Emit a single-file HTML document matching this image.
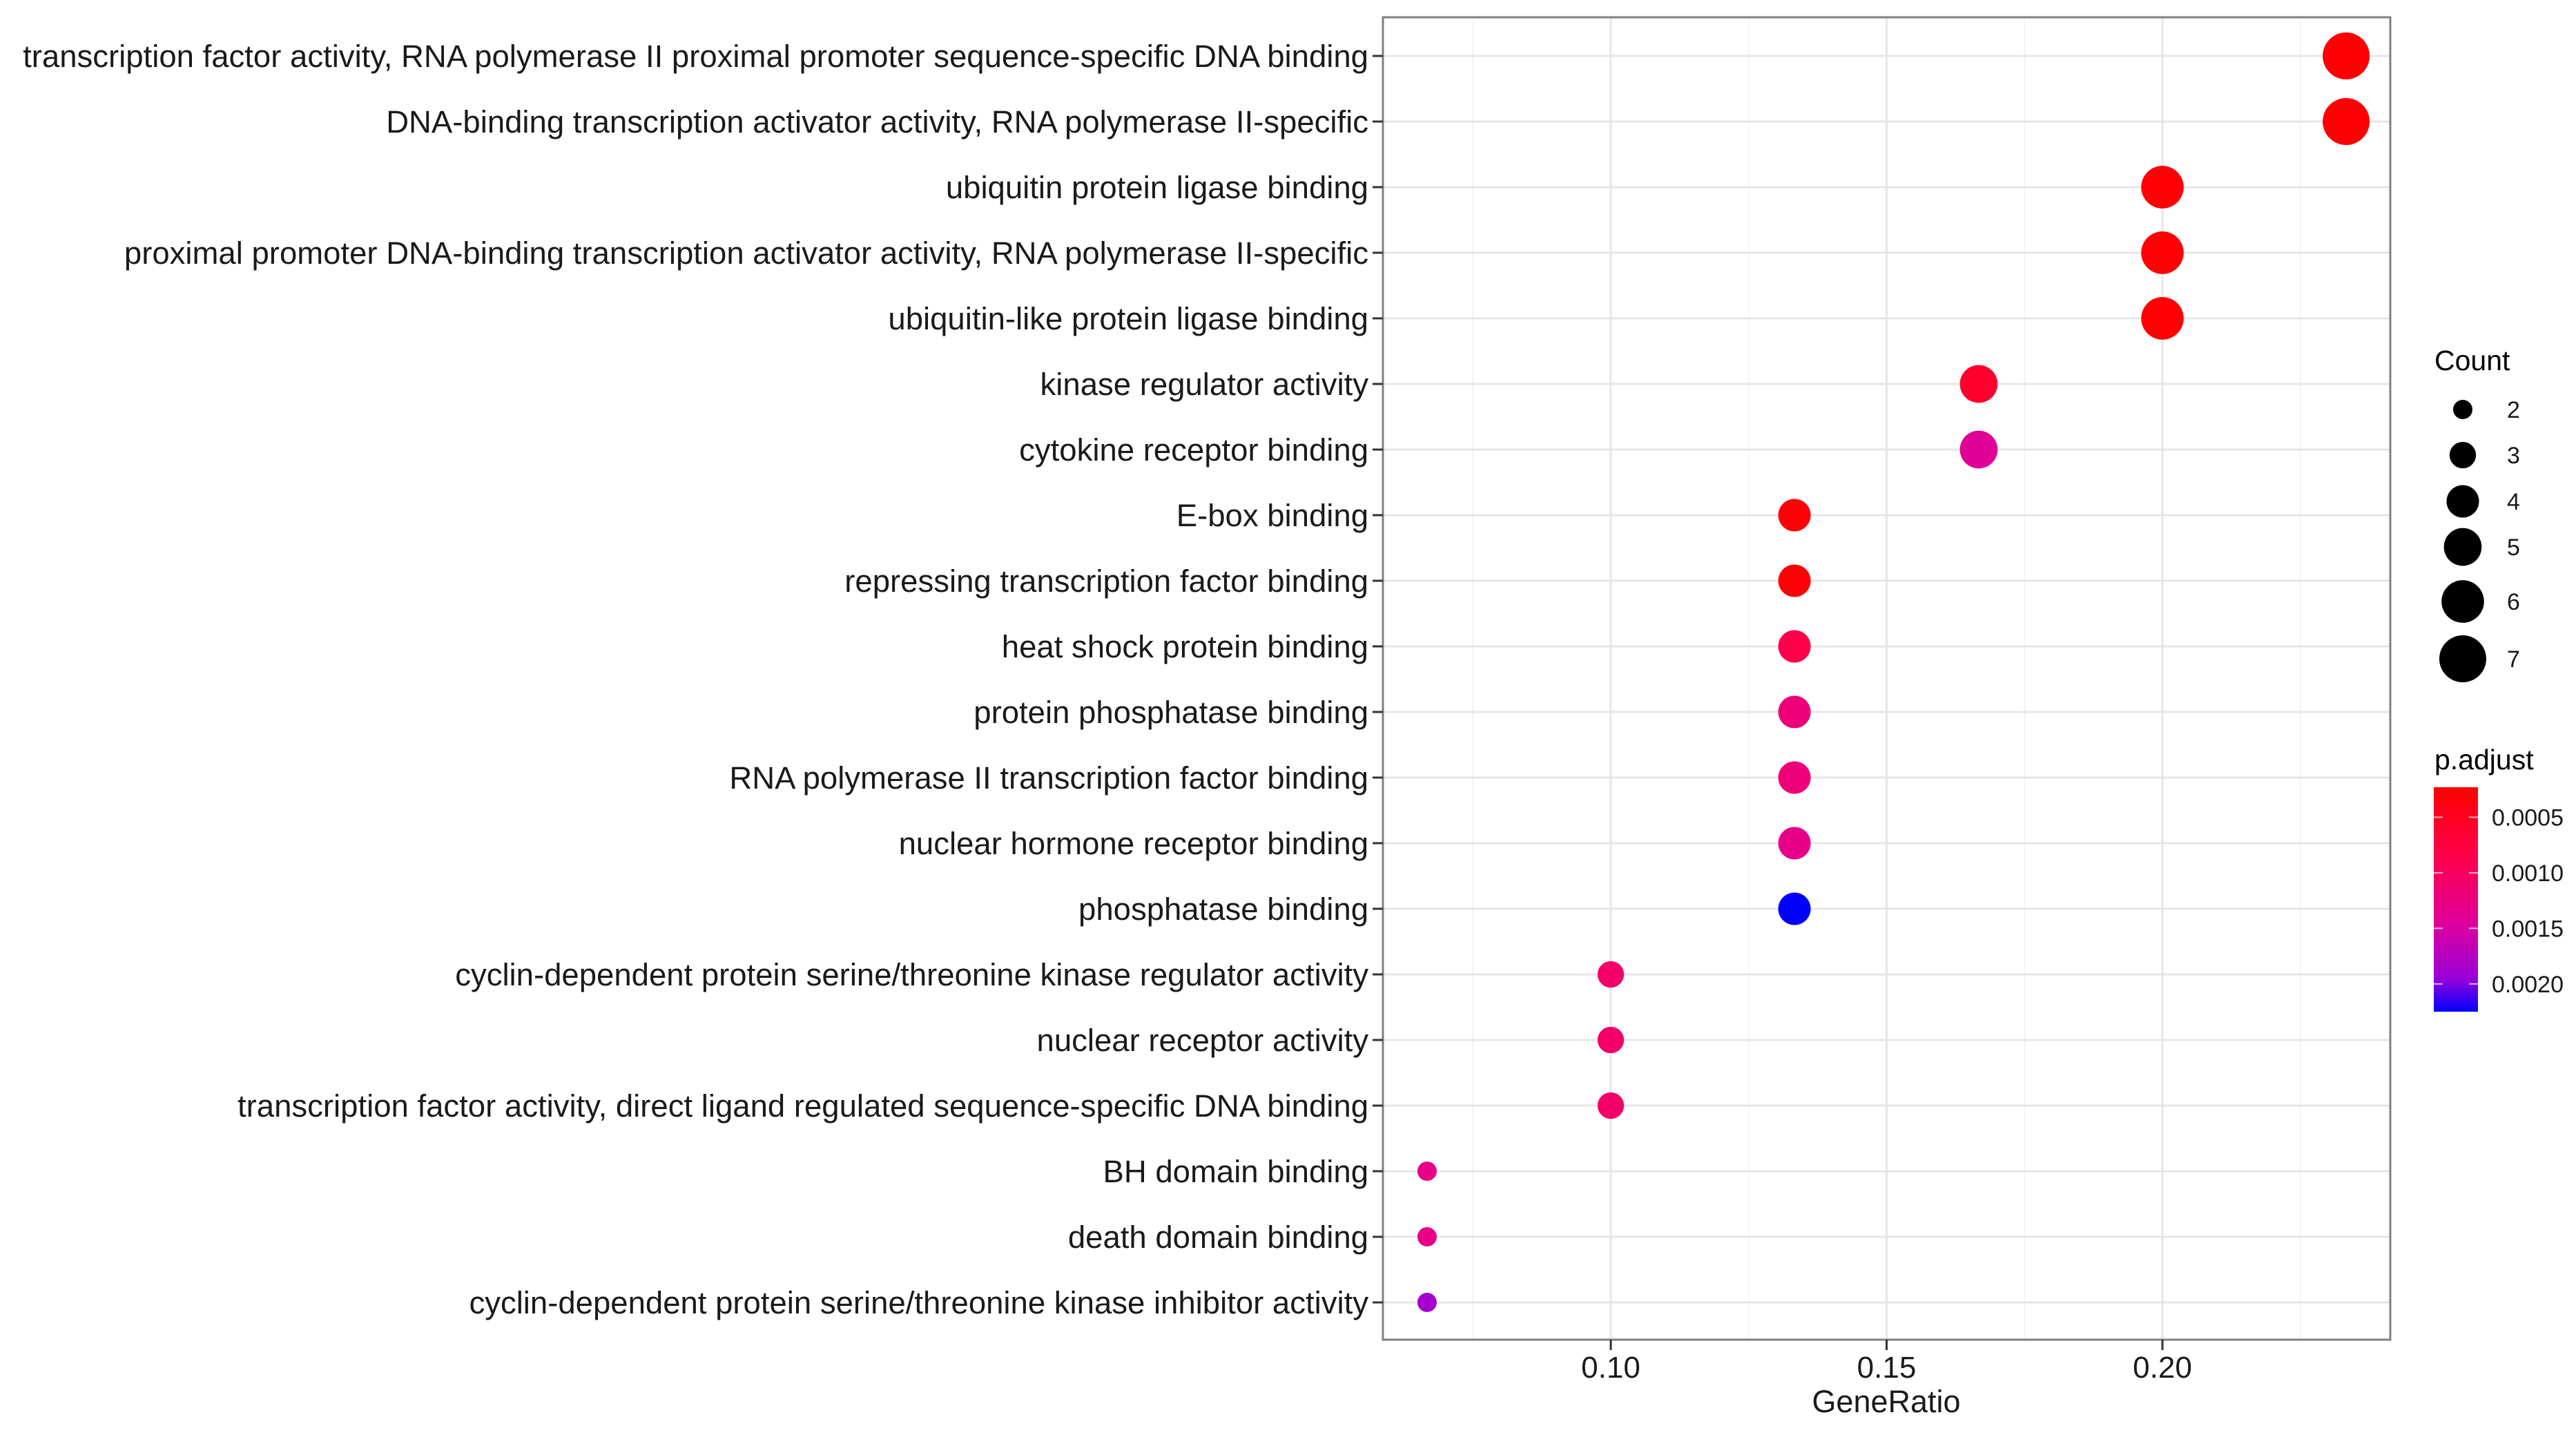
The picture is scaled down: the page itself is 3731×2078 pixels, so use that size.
<!DOCTYPE html>
<html><head><meta charset="utf-8"><style>
html,body{margin:0;padding:0;background:#fff;}
svg text{font-family:"Liberation Sans",Arial,sans-serif;}
</style></head><body>
<svg id="chart" width="3731" height="2073" viewBox="0 0 3731 2073" xmlns="http://www.w3.org/2000/svg">
<rect x="0" y="0" width="3731" height="2073" fill="#fff"/>
<g id="grid"></g>
<g id="dots"></g>
<rect x="2003" y="25" width="1459" height="1915" fill="none" stroke="#808080" stroke-width="3"/>
<g id="yaxis"></g>
<g id="xaxis"></g>
<text x="2732" y="2045" font-size="45" text-anchor="middle" fill="#1a1a1a">GeneRatio</text>
<g id="legend-size">
<text x="3526" y="536" font-size="41" fill="#000">Count</text>
</g>
<g id="legend-color">
<defs><linearGradient id="cbar" x1="0" y1="0" x2="0" y2="1">
<stop offset="0" stop-color="#FF0000"/><stop offset="0.3" stop-color="#FF0048"/><stop offset="0.6" stop-color="#E0009A"/><stop offset="0.85" stop-color="#9A00D8"/><stop offset="1" stop-color="#0000FF"/>
</linearGradient></defs>
<text x="3526" y="1114" font-size="41" fill="#000">p.adjust</text>
<rect x="3525" y="1140" width="64" height="325" fill="url(#cbar)"/>
</g>
</svg>
<script>
const categories = [
"transcription factor activity, RNA polymerase II proximal promoter sequence-specific DNA binding",
"DNA-binding transcription activator activity, RNA polymerase II-specific",
"ubiquitin protein ligase binding",
"proximal promoter DNA-binding transcription activator activity, RNA polymerase II-specific",
"ubiquitin-like protein ligase binding",
"kinase regulator activity",
"cytokine receptor binding",
"E-box binding",
"repressing transcription factor binding",
"heat shock protein binding",
"protein phosphatase binding",
"RNA polymerase II transcription factor binding",
"nuclear hormone receptor binding",
"phosphatase binding",
"cyclin-dependent protein serine/threonine kinase regulator activity",
"nuclear receptor activity",
"transcription factor activity, direct ligand regulated sequence-specific DNA binding",
"BH domain binding",
"death domain binding",
"cyclin-dependent protein serine/threonine kinase inhibitor activity"];
const geneRatio = [0.2333,0.2333,0.2,0.2,0.2,0.1667,0.1667,0.1333,0.1333,0.1333,0.1333,0.1333,0.1333,0.1333,0.1,0.1,0.1,0.0667,0.0667,0.0667];
const counts = [7,7,6,6,6,5,5,4,4,4,4,4,4,4,3,3,3,2,2,2];
const pAdjust = [0.00025,0.00025,0.00026,0.00026,0.00026,0.00062,0.00142,0.00028,0.00028,0.00085,0.00119,0.00119,0.0013,0.00225,0.00107,0.00107,0.00107,0.0013,0.0013,0.00187];
const xTicks = [0.10,0.15,0.20];
const xTickLabels = ["0.10","0.15","0.20"];
const xMinor = [0.075,0.125,0.175,0.225];
const sizeBreaks = [2,3,4,5,6,7];
const colorBreaks = [0.0005,0.0010,0.0015,0.0020];
const colorBreakLabels = ["0.0005","0.0010","0.0015","0.0020"];

const NS="http://www.w3.org/2000/svg";
const X0=2003,X1=3462,Y0=25,Y1=1940;
const xMin=0.0587,xMax=0.2413;
function xs(v){return X0+(v-xMin)/(xMax-xMin)*(X1-X0);}
function ys(i){return 81+i*95;}
const rMin=14,rMax=34,cMin=2,cMax=7;
function rs(c){return rMin+(rMax-rMin)*(Math.sqrt(c)-Math.sqrt(cMin))/(Math.sqrt(cMax)-Math.sqrt(cMin));}
const pMin=0.00023,pMax=0.00225;
const stops=[[0,[255,0,0]],[0.3,[255,0,72]],[0.6,[224,0,154]],[0.85,[154,0,216]],[1,[0,0,255]]];
function cs(p){let t=Math.max(0,Math.min(1,(p-pMin)/(pMax-pMin)));
 for(let k=1;k<stops.length;k++){if(t<=stops[k][0]){const a=stops[k-1],b=stops[k];const f=(t-a[0])/(b[0]-a[0]);
 const c=a[1].map((v,j)=>Math.round(v+(b[1][j]-v)*f));return `rgb(${c[0]},${c[1]},${c[2]})`;}}return "rgb(0,0,255)";}
function pys(p){return 1140+(p-pMin)/(pMax-pMin)*325;}
function mk(tag,attrs,parent){const e=document.createElementNS(NS,tag);for(const k in attrs)e.setAttribute(k,attrs[k]);parent.appendChild(e);return e;}

const grid=document.getElementById('grid');
xMinor.forEach(v=>{const l=mk('line',{x1:xs(v),x2:xs(v),y1:Y0,y2:Y1,stroke:'#F0F0F0','stroke-width':1.5},grid);

});
xTicks.forEach(v=>{const l=mk('line',{x1:xs(v),x2:xs(v),y1:Y0,y2:Y1,stroke:'#E6E6E6','stroke-width':3},grid);

});
categories.forEach((c,i)=>{const l=mk('line',{x1:X0,x2:X1,y1:ys(i),y2:ys(i),stroke:'#E6E6E6','stroke-width':3},grid);

});

const yaxis=document.getElementById('yaxis');
categories.forEach((c,i)=>{
 const t=mk('line',{x1:1988,x2:X0,y1:ys(i),y2:ys(i),stroke:'#333','stroke-width':3},yaxis);
 
 
 const tx=mk('text',{x:1982,y:ys(i)+16,'font-size':45.5,'text-anchor':'end',fill:'#1a1a1a'},yaxis);
 tx.textContent=c;
 
 
});
const xaxis=document.getElementById('xaxis');
xTicks.forEach((v,i)=>{
 const t=mk('line',{x1:xs(v),x2:xs(v),y1:Y1,y2:Y1+15,stroke:'#333','stroke-width':3},xaxis);
 
 
 const tx=mk('text',{x:xs(v),y:1995,'font-size':44,'text-anchor':'middle',fill:'#1a1a1a'},xaxis);
 tx.textContent=xTickLabels[i];
 
 
});
const dots=document.getElementById('dots');
categories.forEach((c,i)=>{
 const d=mk('circle',{cx:xs(geneRatio[i]),cy:ys(i),r:rs(counts[i]),fill:cs(pAdjust[i])},dots);
 
 
});
const ls=document.getElementById('legend-size');
const sizeY=[593,659,726,792,871,954];
sizeBreaks.forEach((c,i)=>{
 const d=mk('circle',{cx:3567,cy:sizeY[i],r:rs(c),fill:'#000'},ls);
 
 
 const tx=mk('text',{x:3631,y:sizeY[i]+12,'font-size':34,fill:'#1a1a1a'},ls);
 tx.textContent=String(c);
 
 
});
const lc=document.getElementById('legend-color');
colorBreaks.forEach((p,i)=>{
 const y=pys(p);
 const a=mk('line',{x1:3525,x2:3538,y1:y,y2:y,stroke:'#fff','stroke-width':2,opacity:0.7},lc);
 
 
 const b=mk('line',{x1:3576,x2:3589,y1:y,y2:y,stroke:'#fff','stroke-width':2,opacity:0.7},lc);
 
 
 const tx=mk('text',{x:3609,y:y+12,'font-size':34,fill:'#1a1a1a'},lc);
 tx.textContent=colorBreakLabels[i];
 
 
});
</script>
</body></html>
